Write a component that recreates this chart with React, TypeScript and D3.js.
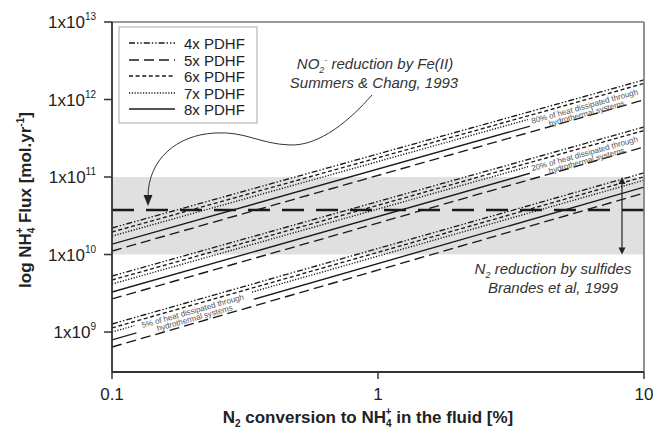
import React from 'react';
import * as d3 from 'd3';

// ---------- data ----------
const xDomain = [0.1, 10];
const yDomain = [3.05e8, 1e13];
const xTicks = [0.1, 1, 10];
const xTickLabels = ['0.1', '1', '10'];
const yTicks = [1e9, 1e10, 1e11, 1e12, 1e13];
const yTickExps = ['9', '10', '11', '12', '13'];

const conversionEnds = [0.1, 10]; // % N2 conversion at line ends
const heatGroups = ['80%', '20%', '5%'];
const seriesNames = ['4x PDHF', '5x PDHF', '6x PDHF', '7x PDHF', '8x PDHF'];

// NH4+ flux at 0.1% and 10% conversion, for heat groups [80%, 20%, 5%]
const flux4x = [[2.2e10, 1.79e12], [5.28e9, 4.42e11], [1.27e9, 1.13e11]];
const flux5x = [[1.11e10, 9.9e11], [2.67e9, 2.44e11], [6.4e8, 6.2e10]];
const flux6x = [[1.95e10, 1.61e12], [4.69e9, 3.98e11], [1.13e9, 1.01e11]];
const flux7x = [[1.73e10, 1.45e12], [4.16e9, 3.59e11], [1.0e9, 9.1e10]];
const flux8x = [[1.36e10, 1.18e12], [3.28e9, 2.92e11], [7.9e8, 7.4e10]];

const bandRange = [1e10, 1e11]; // N2 reduction by sulfides
const no2Level = 3.75e10; // NO2- reduction by Fe(II)

// ---------- layout / style ----------
const W = 653;
const H = 429;
const L = 112, R = 644, T = 22, B = 372;
const INK = '#1a1a1a';
const dashes = ['6,2,1.4,2,1.4,2', '10,5', '4,2.6', '1.2,1.6', 'none'];
const maskedSeries = [3, 4];
const labelCenterX = [582, 582, 190];
const font = 'Arial, "Liberation Sans", Helvetica, sans-serif';

export default function App() {
  const x = d3.scaleLog().domain(xDomain).range([L, R]);
  const y = d3.scaleLog().domain(yDomain).range([B, T]);
  const allFlux = [flux4x, flux5x, flux6x, flux7x, flux8x];
  const line = d3
    .line<[number, number]>()
    .x((d) => x(d[0]))
    .y((d) => y(d[1]));

  const frames = heatGroups.map((g, gi) => {
    const top = flux4x[gi];
    const x0 = x(conversionEnds[0]);
    const x1 = x(conversionEnds[1]);
    const y0 = y(top[0]);
    const y1 = y(top[1]);
    const cx = labelCenterX[gi];
    const cy = y0 + ((y1 - y0) * (cx - x0)) / (x1 - x0);
    const ang = (Math.atan2(y1 - y0, x1 - x0) * 180) / Math.PI;
    return { cx, cy, ang, right: gi < 2 };
  });

  const legendY = [43, 60, 76, 93, 109];

  return (
    <svg
      width={W}
      height={H}
      style={{ position: 'absolute', left: 0, top: 0, background: '#fff' }}
      fontFamily={font}
    >
      <defs>
        {frames.map((f, gi) => (
          <mask id={`m${gi}`} key={gi} maskUnits="userSpaceOnUse" x={0} y={0} width={W} height={H}>
            <rect x={0} y={0} width={W} height={H} fill="#fff" />
            <g transform={`translate(${f.cx},${f.cy}) rotate(${f.ang})`}>
              <rect x={f.right ? -58 : -60} y={5} width={f.right ? 140 : 122} height={13.5} fill="#000" />
            </g>
          </mask>
        ))}
        <clipPath id="plotClip">
          <rect x={L} y={T} width={R - L} height={B - T} />
        </clipPath>
      </defs>

      {/* grey band */}
      <rect
        x={L}
        y={y(bandRange[1])}
        width={R - L}
        height={y(bandRange[0]) - y(bandRange[1])}
        fill="#e0e0e0"
      />

      {/* model lines */}
      <g clipPath="url(#plotClip)">
        {heatGroups.map((g, gi) =>
          allFlux.map((s, si) => (
            <path
              key={`${gi}-${si}`}
              d={line([
                [conversionEnds[0], s[gi][0]],
                [conversionEnds[1], s[gi][1]],
              ]) as string}
              fill="none"
              stroke={INK}
              strokeWidth={si === 3 ? 1.4 : 1.35}
              strokeDasharray={dashes[si]}
              mask={maskedSeries.includes(si) ? `url(#m${gi})` : undefined}
            />
          ))
        )}
      </g>

      {/* group labels */}
      {frames.map((f, gi) => (
        <g key={gi} transform={`translate(${f.cx},${f.cy}) rotate(${f.ang})`} fill="#555" fontSize={8}>
          <text x={0} y={12.3} textAnchor="middle">
            {heatGroups[gi]} of heat dissipated through
          </text>
          <text x={0} y={19.6} textAnchor="middle">
            hydrothermal systems
          </text>
        </g>
      ))}

      {/* NO2- reduction dashed line */}
      <line
        x1={L}
        x2={R}
        y1={y(no2Level)}
        y2={y(no2Level)}
        stroke={INK}
        strokeWidth={2.6}
        strokeDasharray="22,12"
      />

      {/* frame */}
      <line x1={L} x2={R} y1={T} y2={T} stroke="#777" strokeWidth={1.6} />
      <line x1={R} x2={R} y1={T} y2={B} stroke="#777" strokeWidth={1.6} />
      <line x1={L} x2={L} y1={T} y2={B} stroke="#333" strokeWidth={1.8} />
      <line x1={L} x2={R} y1={B} y2={B} stroke="#333" strokeWidth={1.8} />

      {/* y axis ticks */}
      {yTicks.map((t, i) => (
        <g key={i}>
          <line x1={L - 8} x2={L} y1={y(t)} y2={y(t)} stroke="#333" strokeWidth={1.5} />
          <text x={96} y={y(t) + 6} textAnchor="end" fontSize={17} fill="#222">
            1x10
            <tspan dy={-8} fontSize={10}>
              {yTickExps[i]}
            </tspan>
          </text>
        </g>
      ))}

      {/* x axis ticks */}
      {xTicks.map((t, i) => (
        <g key={i}>
          <line x1={x(t)} x2={x(t)} y1={B} y2={B + 7} stroke="#333" strokeWidth={1.5} />
          <text x={x(t)} y={400} textAnchor="middle" fontSize={17} fill="#222">
            {xTickLabels[i]}
          </text>
        </g>
      ))}

      {/* axis titles */}
      <text x={368} y={423} textAnchor="middle" fontSize={17} fontWeight="bold" fill="#222">
        N
        <tspan dy={4} fontSize={10}>2</tspan>
        <tspan dy={-4}> conversion to NH</tspan>
        <tspan dy={4} fontSize={10}>4</tspan>
        <tspan dy={-12} dx={-6} fontSize={10}>+</tspan>
        <tspan dy={8}> in the fluid [%]</tspan>
      </text>
      <text
        transform="translate(31,200) rotate(-90)"
        textAnchor="middle"
        fontSize={17}
        fontWeight="bold"
        fill="#222"
      >
        log NH
        <tspan dy={4} fontSize={10}>4</tspan>
        <tspan dy={-12} dx={-6} fontSize={10}>+</tspan>
        <tspan dy={8}> Flux [mol.yr</tspan>
        <tspan dy={-7} fontSize={10}>-1</tspan>
        <tspan dy={7}>]</tspan>
      </text>

      {/* legend */}
      <rect x={119} y={27} width={138} height={96} fill="#fff" stroke="#aaa" strokeWidth={1} />
      {seriesNames.map((n, i) => (
        <g key={n}>
          <line
            x1={129}
            x2={175}
            y1={legendY[i]}
            y2={legendY[i]}
            stroke={INK}
            strokeWidth={1.4}
            strokeDasharray={dashes[i]}
          />
          <text x={184} y={legendY[i] + 5.5} fontSize={15} fill="#222">
            {n}
          </text>
        </g>
      ))}

      {/* NO2- annotation */}
      <g fontSize={15} fontStyle="italic" fill="#333" textAnchor="middle">
        <text x={375} y={69}>
          NO
          <tspan dy={4} fontSize={9}>2</tspan>
          <tspan dy={-10} fontSize={9}>-</tspan>
          <tspan dy={6}> reduction by Fe(II)</tspan>
        </text>
        <text x={374} y={88}>Summers &amp; Chang, 1993</text>
      </g>
      <path
        d="M 372 95 C 350 120, 320 146, 290 145 C 260 144, 245 131, 215 133 C 176 135, 148 160, 148 197"
        fill="none"
        stroke="#333"
        strokeWidth={1}
      />
      <polygon points="143.5,195 152.5,195 148,206" fill="#222" />

      {/* N2 reduction annotation */}
      <line
        x1={622}
        x2={622}
        y1={y(bandRange[1]) + 6}
        y2={y(bandRange[0]) - 6}
        stroke="#222"
        strokeWidth={1.2}
      />
      <polygon
        points={`618.5,${y(bandRange[1]) + 7} 625.5,${y(bandRange[1]) + 7} 622,${y(bandRange[1])}`}
        fill="#222"
      />
      <polygon
        points={`618.5,${y(bandRange[0]) - 7} 625.5,${y(bandRange[0]) - 7} 622,${y(bandRange[0])}`}
        fill="#222"
      />
      <g fontSize={15} fontStyle="italic" fill="#333" textAnchor="middle">
        <text x={553} y={274}>
          N<tspan dy={4} fontSize={9}>2</tspan>
          <tspan dy={-4}> reduction by sulfides</tspan>
        </text>
        <text x={553} y={293}>Brandes et al, 1999</text>
      </g>
    </svg>
  );
}
